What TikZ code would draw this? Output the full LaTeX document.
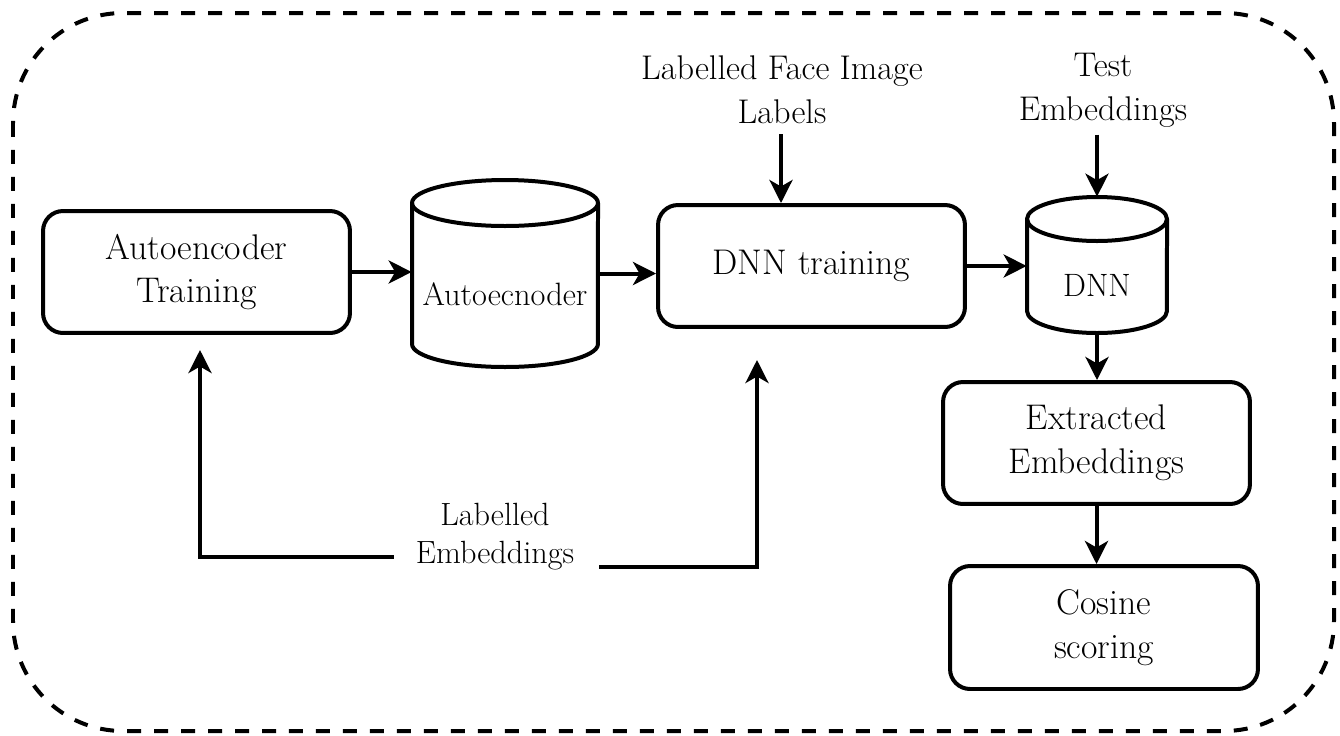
\documentclass[tikz,border=0pt]{standalone}
\usetikzlibrary{arrows.meta,calc}
\begin{document}
\begin{tikzpicture}[x=0.02cm,y=-0.02cm,
  box/.style={draw, line width=0.08cm, rounded corners=0.4cm, minimum width=6.14cm, minimum height=2.44cm, align=center, font=\fontsize{20.3}{25}\selectfont, inner sep=0pt},
  lbl/.style={align=center, font=\fontsize{19.5}{25}\selectfont, inner sep=0pt},
  cyltext/.style={font=\fontsize{18.4}{22}\selectfont, inner sep=0pt},
  cylshape/.style={draw=none, inner sep=0pt},
  cylline/.style={line width=0.08cm, line join=round},
  conn/.style={line width=0.08cm, -{Stealth[length=0.46cm,width=0.46cm,inset=0.13cm]}},
  outer/.style={line width=0.08cm, dash pattern=on 0.28cm off 0.26cm, rounded corners=2.2cm}
]
\useasboundingbox (0,0) rectangle (1340,735);
\draw[outer] (13,13) rectangle (1334,731);

% boxes
\node[box] (aetrain) at (196.5,272) {Autoencoder\\Training};
\node[box] (dnntrain) at (811.5,266) {DNN training};
\node[box] (extr) at (1096.5,443) {Extracted\\Embeddings};
\node[box, minimum width=6.16cm, minimum height=2.46cm] (cos) at (1104,627.5) {Cosine\\scoring};

% cylinder 1
\node[cylshape, minimum width=3.72cm, minimum height=3.74cm] (cyl1) at (505,273.5) {};
\draw[cylline] (412,203) -- (412,344) arc[start angle=180, end angle=360, x radius=1.86cm, y radius=0.46cm] -- (598,203);
\draw[cylline] (505,203) ellipse [x radius=1.86cm, y radius=0.46cm];
\node[cyltext] (cyl1t) at (505,294) {Autoecnoder};

% cylinder 2
\node[cylshape, minimum width=2.8cm, minimum height=2.72cm] (cyl2) at (1097,265) {};
\draw[cylline] (1027,219) -- (1027,311) arc[start angle=180, end angle=360, x radius=1.4cm, y radius=0.44cm] -- (1167,219);
\draw[cylline] (1097,219) ellipse [x radius=1.4cm, y radius=0.44cm];
\node[cyltext] (cyl2t) at (1097,285.5) {DNN};

% labels
\node[lbl] (lface) at (782,90) {Labelled Face Image\\Labels};
\node[lbl] (temb) at (1103,90) {Test\\Embeddings};
\node[lbl, font=\fontsize{18.3}{21.6}\selectfont] (lemb) at (495,537) {Labelled\\Embeddings};

% connectors
\draw[conn] (aetrain.east) -- (aetrain.east -| cyl1.west);
\draw[conn] (cyl1.east) -- (cyl1.east -| dnntrain.west);
\draw[conn] (dnntrain.east) -- (dnntrain.east -| cyl2.west);
\draw[conn] ($(lface.south)+(-1,10)$) -- ($(lface.south |- dnntrain.north)+(-1,0)$);
\draw[conn] ($(cyl2.north)+(0,-62)$) -- (cyl2.north);
\draw[conn] (cyl2.south) -- (cyl2.south |- extr.north);
\draw[conn] (extr.south) -- (extr.south |- cos.north);
\draw[conn] ($(lemb.west)+(-22,20)$) -| ($(aetrain.south)+(3.5,15)$);
\draw[conn] ($(lemb.east)+(25,30)$) -| ($(dnntrain.south)+(-54.5,31)$);
\end{tikzpicture}
\end{document}
